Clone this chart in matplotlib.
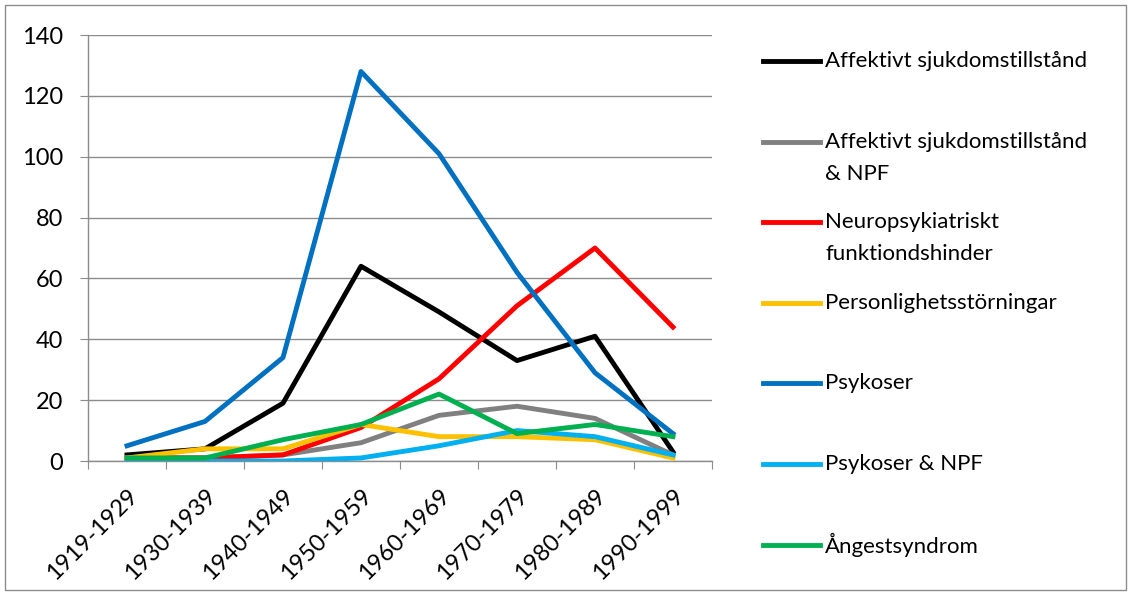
import matplotlib.pyplot as plt
from matplotlib.lines import Line2D
from matplotlib.patches import Rectangle

plt.rcParams['font.family'] = ['Lato', 'DejaVu Sans']

decades = ["1919-1929", "1930-1939", "1940-1949", "1950-1959",
           "1960-1969", "1970-1979", "1980-1989", "1990-1999"]

affektivt = [2, 4, 19, 64, 49, 33, 41, 3]
affektivt_npf = [1, 1, 2, 6, 15, 18, 14, 2]
neuropsyk = [1, 1, 2, 11, 27, 51, 70, 44]
personlighet = [1, 4, 4, 12, 8, 8, 7, 1]
psykoser = [5, 13, 34, 128, 101, 62, 29, 9]
psykoser_npf = [0, 0, 0, 1, 5, 10, 8, 2]
angest = [1, 1, 7, 12, 22, 9, 12, 8]

series = [
    (["Affektivt sjukdomstillstånd"], affektivt, "#000000"),
    (["Affektivt sjukdomstillstånd", "& NPF"], affektivt_npf, "#808080"),
    (["Neuropsykiatriskt", "funktiondshinder"], neuropsyk, "#FF0000"),
    (["Personlighetsstörningar"], personlighet, "#FFC000"),
    (["Psykoser"], psykoser, "#0070C0"),
    (["Psykoser & NPF"], psykoser_npf, "#00B0F0"),
    (["Ångestsyndrom"], angest, "#00B050"),
]

W, H = 1130, 595
fig = plt.figure(figsize=(W / 100, H / 100), dpi=100)
ax = fig.add_axes([88 / W, 1 - 461 / H, 624 / W, 426 / H])

x = list(range(len(decades)))
for label, vals, color in series:
    ax.plot(x, vals, color=color, lw=3.5, zorder=3)

ax.set_xlim(-0.5, len(decades) - 0.5)
ax.set_ylim(0, 140)
ax.set_yticks(range(0, 141, 20))
ax.yaxis.grid(True, color='#8c8c8c', lw=1)
ax.set_axisbelow(True)

ax.set_xticks([i - 0.5 for i in range(len(decades) + 1)])
ax.set_xticklabels([])
ax.set_xticks(x, minor=True)
ax.set_xticklabels(decades, minor=True, rotation=45, ha='right',
                   rotation_mode='anchor', fontsize=17)
ax.tick_params(axis='x', which='minor', length=0, pad=17)
ax.tick_params(axis='x', which='major', length=6, color='#8c8c8c', direction='out')
ax.tick_params(axis='y', length=6, color='#8c8c8c', labelsize=17, pad=12)

for side in ['top', 'right']:
    ax.spines[side].set_visible(False)
for side in ['left', 'bottom']:
    ax.spines[side].set_color('#8c8c8c')
    ax.spines[side].set_linewidth(1)

# legend drawn by hand so the line sits at the first text line
for i, (lines, vals, color) in enumerate(series):
    y = 61 + i * 80.6
    fig.add_artist(Line2D([763 / W, 820 / W], [1 - y / H, 1 - y / H], color=color,
                          lw=3.5, transform=fig.transFigure))
    for j, line in enumerate(lines):
        fig.text(825 / W, 1 - (y + j * 32) / H, line, fontsize=16, va='center')

fig.add_artist(Rectangle((5 / W, 5 / H), 1121 / W, 585 / H,
                         transform=fig.transFigure, fill=False,
                         edgecolor='#8c8c8c', lw=1))

fig.savefig('out.png', dpi=100)
